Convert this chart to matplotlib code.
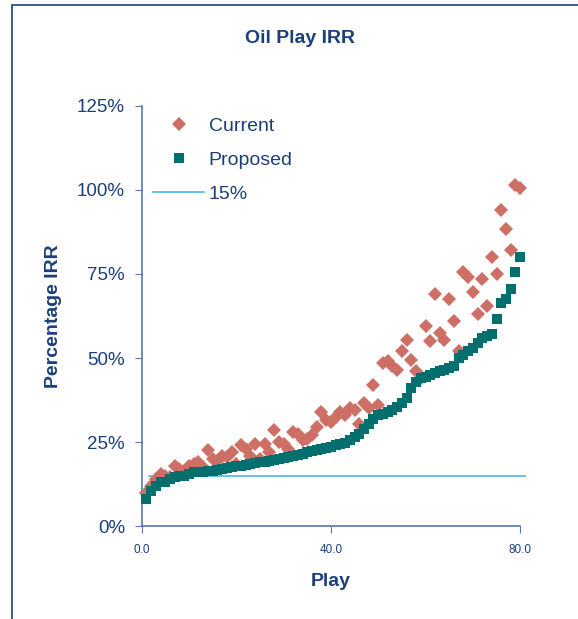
import numpy as np
import matplotlib.pyplot as plt
from matplotlib.patches import Rectangle
from matplotlib.ticker import FixedLocator, FuncFormatter

NAVY = "#1b3f7d"
AXIS = "#5a76ab"
CURRENT_C = "#cd6f65"
PROPOSED_C = "#006f6e"
LINE_C = "#5bbcec"

play = np.arange(1, 81)

current = [
    10, 12, 14, 15.5, 15, 14.5, 18, 17, 16.5, 18,
    18.5, 19, 17.5, 22.5, 20, 19.5, 21, 20.5, 22, 18.5,
    24, 23, 21, 24.5, 20, 24.5, 22, 28.5, 25, 24.5,
    23, 28, 27.5, 25.5, 26, 27, 29.5, 34, 31.5, 31,
    32.5, 34, 33, 35, 34.5, 30.5, 36.5, 35, 42, 36,
    48.5, 49, 47.5, 46.5, 52, 55.5, 49.5, 46, 44, 59.5,
    55, 69, 57.5, 55.5, 67.5, 61, 52, 75.5, 74, 69.5,
    63, 73.5, 65.5, 80, 75, 94, 88.5, 82, 101.5, 100.5,
]

proposed = [
    8, 10.5, 12, 13, 13, 14, 14.5, 15, 15, 15.5,
    16, 16, 16.2, 16.5, 16.5, 16.8, 17, 17.2, 17.5, 17.8,
    18, 18.2, 18.5, 18.8, 19, 19.2, 19.5, 19.8, 20, 20.3,
    20.6, 21, 21.3, 21.6, 22, 22.3, 22.6, 23, 23.3, 23.6,
    24, 24.3, 24.8, 25.5, 26.5, 27.5, 29, 30.5, 32, 33,
    33.5, 34, 34.5, 35.5, 36.5, 38, 41, 43, 44, 44.5,
    45, 45.5, 46, 46.5, 47, 47.5, 50, 51, 52, 53,
    54.5, 56, 56.5, 57, 61.5, 66.5, 67.5, 70.5, 75.5, 80,
]

hurdle_x = [1.5, 81]
hurdle_y = [15, 15]

plt.rcParams["font.family"] = ["Liberation Sans", "DejaVu Sans"]

fig = plt.figure(figsize=(5.78, 6.19), dpi=100)
ax = fig.add_axes([0.245, 0.150, 0.655, 0.679])

# frame of the slide object (left and top edges visible)
fig.patches.append(Rectangle((0.020, -0.1), 1.2, 1.092, transform=fig.transFigure,
                             fill=False, edgecolor=NAVY, linewidth=1.2))

ax.plot(play, current, linestyle="none", marker="D", markersize=6.8,
        color=CURRENT_C, markeredgewidth=0, label="Current", clip_on=False, zorder=3)
ax.plot(play, proposed, linestyle="none", marker="s", markersize=7.2,
        color=PROPOSED_C, markeredgewidth=0, label="Proposed", clip_on=False, zorder=4)
ax.plot(hurdle_x, hurdle_y, color=LINE_C, linewidth=1.3, label="15%",
        clip_on=False, zorder=2)

ax.set_xlim(0, 80)
ax.set_ylim(0, 125)
ax.xaxis.set_major_locator(FixedLocator([0, 40, 80]))
ax.yaxis.set_major_locator(FixedLocator([0, 25, 50, 75, 100, 125]))
ax.xaxis.set_major_formatter(FuncFormatter(lambda v, p: f"{v:.1f}"))
ax.yaxis.set_major_formatter(FuncFormatter(lambda v, p: f"{v:.0f}%"))

for side in ("top", "right"):
    ax.spines[side].set_visible(False)
for side in ("left", "bottom"):
    ax.spines[side].set_color(AXIS)
    ax.spines[side].set_linewidth(1.2)

ax.tick_params(axis="y", direction="out", length=5, color=AXIS,
               labelsize=13.5, labelcolor=NAVY, pad=7)
ax.tick_params(axis="x", direction="out", length=5, color=AXIS,
               labelsize=8.5, labelcolor=NAVY, pad=8)

fig.text(0.519, 0.938, "Oil Play IRR", fontsize=14, fontweight="bold",
         color=NAVY, ha="center", va="center")
ax.set_xlabel("Play", fontsize=14, fontweight="bold", color=NAVY, labelpad=12)
ax.set_ylabel("Percentage IRR", fontsize=14, fontweight="bold", color=NAVY,
              labelpad=11)

leg = ax.legend(loc="upper left", bbox_to_anchor=(-0.015, 1.015), frameon=False,
                fontsize=14, handlelength=2.6, handletextpad=0.25,
                labelspacing=0.85, labelcolor=NAVY)

fig.savefig("out.png", dpi=100)
